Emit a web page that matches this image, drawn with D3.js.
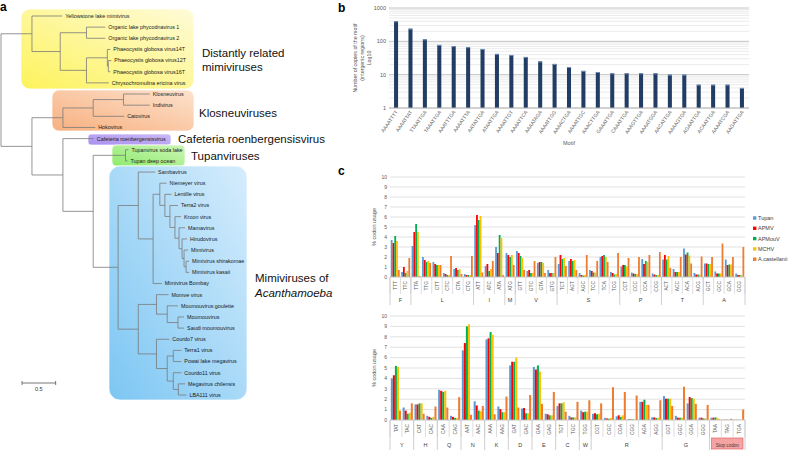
<!DOCTYPE html>
<html>
<head>
<meta charset="utf-8">
<script src="https://cdn.jsdelivr.net/npm/d3@7"></script>
<style>
  body { margin: 0; background: #fff; }
  svg { display: block; font-family: "Liberation Sans", Arial, sans-serif; }
</style>
</head>
<body>
<svg id="fig" width="788" height="451"></svg>
<script>
// ---------------- DATA ----------------
// tree (branch lengths in substitutions/site)
var treeNewick = "((Yellowstone lake mimivirus:0.45,((Organic lake phycodnavirus 1:0.28,Organic lake phycodnavirus 2:0.28):0.39," +
  "((Phaeocystis globosa virus14T:0.045,(Phaeocystis globosa virus12T:0.045,Phaeocystis globosa virus16T:0.03):0.015):0.31," +
  "Chrysochromulina ericina virus:0.33):0.39):0.42):0.46," +
  "((((Klosneuvirus:0.39,Indivirus:0.39):0.45,Catovirus:0.46):0.45,Hokovirus:0.48):0.46," +
  "(Cafeteria roenbergensisvirus:0.46,((Tupanvirus soda lake:0.045,Tupan deep ocean:0.03):0.48," +
  "((Sambavirus:0.25,((Niemeyer virus:0.10,(Lentille virus:0.10,(Terra2 virus:0.12,(Kroon virus:0.09,(Mamavirus:0.09," +
  "(Hirudovirus:0.075,(Mimivirus:0.06,(Mimivirus shirakomae:0.045,Mimivirus kasaii:0.045):0.03):0.03):0.045):0.06):0.075):0.075):0.075):0.10," +
  "Mimivirus Bombay:0.13):0.22):0.30," +
  "((Momve virus:0.18,(Moumouvirus goulette:0.16,(Moumouvirus:0.09,Saudi moumouvirus:0.09):0.16):0.16):0.27," +
  "(Courdo7  virus:0.19,((Terra1 virus:0.12,Powai lake megavirus:0.12):0.09,(Courdo11 virus:0.12," +
  "(Megavirus chilensis:0.10,LBA111 virus:0.12):0.075):0.09):0.16):0.27):0.30):0.37):0.45):0.46):0.46);";

// panel b
var motifs = ["AAAATTTT","AAAATTAT","TTAATTGA","TAAATTGA","AAATTTGA","AAAATTTA","AATATTGA","ATAATTGA",
  "AAAATTGT","AAAATTCA","AAAATAGA","AAAATTGG","AAAACTGA","AAAATTGC","AAACTTGA","GAAATTGA","CAAATTGA",
  "AAAGTTGA","AAAATGGA","AACATTGA","AAAAGTGA","AGAATTGA","ACAATTGA","AAAATCGA","AAGATTGA"];
var motifCopies = [400, 240, 115, 78, 72, 67, 59, 42, 39, 34, 25, 21, 17, 13, 12, 11, 11, 11, 11, 10, 10, 5, 5, 5, 4];
var motifTicks = [1, 10, 100, 1000];

// panel c, top
var codonsTop = ["TTT","TTC","TTA","TTG","CTT","CTC","CTA","CTG","ATT","ATC","ATA","ATG","GTT","GTC","GTA","GTG",
  "TCT","AGT","AGC","TCC","TCA","TCG","CCT","CCC","CCA","CCG","ACT","ACC","ACA","ACG","GCT","GCC","GCA","GCG"];
var aaTop = ["F","F","L","L","L","L","L","L","I","I","I","M","V","V","V","V",
  "S","S","S","S","S","S","P","P","P","P","T","T","T","T","A","A","A","A"];
var tupanTop   = [3.7,0.5,3.1,2.0,1.5,0.4,0.8,0.3, 5.2,1.1,3.0, 2.4, 2.6,0.6,1.4,0.7, 1.3,1.6,0.4,0.7,2.0,0.5, 1.05,0.45,1.8,0.35, 1.75,0.8,2.85,0.4, 1.35,0.55,1.75,0.35];
var apmvTop    = [3.4,1.0,4.5,1.7,1.3,0.3,0.9,0.2, 6.2,1.3,2.4, 2.2, 2.4,0.7,1.5,0.4, 2.2,1.8,0.2,0.6,2.1,0.4, 1.2,0.35,1.3,0.25, 2.2,0.5,2.25,0.25, 1.35,0.35,1.2,0.2];
var apmouvTop  = [4.1,0.4,5.3,1.5,1.2,0.2,0.7,0.2, 5.7,0.6,4.2, 2.0, 2.1,0.4,1.5,0.4, 1.8,1.6,0.15,0.45,2.2,0.25, 1.2,0.3,1.6,0.2, 1.75,0.5,2.45,0.25, 1.3,0.35,1.25,0.2];
var mchvTop    = [3.6,0.6,4.5,1.6,1.2,0.2,0.8,0.2, 6.1,0.8,3.9, 2.2, 1.9,0.4,1.4,0.4, 1.9,1.7,0.2,0.45,2.0,0.3, 1.05,0.3,1.5,0.2, 2.1,0.5,2.15,0.25, 1.3,0.35,1.25,0.2];
var acasTop    = [0.7,1.9,0.1,1.4,1.2,2.1,0.3,2.1, 0.45,1.6,0.2, 1.2, 0.7,1.6,0.4,2.0, 1.1,0.7,2.2,1.6,1.5,2.4, 1.9,2.0,2.2,2.5, 0.9,2.0,1.35,2.05, 2.0,3.35,2.0,3.0];

// panel c, bottom
var codonsBot = ["TAT","TAC","CAT","CAC","CAA","CAG","AAT","AAC","AAA","AAG","GAT","GAC","GAA","GAG","TGT","TGC","TGG",
  "CGT","CGC","CGA","CGG","AGA","AGG","GGT","GGC","GGA","GGG","TAA","TAG","TGA"];
var aaBot = ["Y","Y","H","H","Q","Q","N","N","K","K","D","D","E","E","C","C","W",
  "R","R","R","R","R","R","G","G","G","G","Stop codon","Stop codon","Stop codon"];
var tupanBot  = [4.0,1.2,1.5,0.4,2.9,0.4,6.7,1.8,7.75,1.3,5.25,1.1,5.1,0.6,1.35,0.4,0.9,0.6,0.2,0.35,0.1,1.75,0.25,2.3,0.4,1.6,0.22,0.22,0.03,0.02];
var apmvBot   = [4.3,0.9,1.5,0.3,2.8,0.3,7.4,1.4,7.85,1.05,5.6,1.15,4.85,0.55,1.6,0.25,0.75,0.65,0.15,0.45,0.06,1.75,0.25,2.05,0.22,2.2,0.22,0.22,0.03,0.02];
var apmouvBot = [5.2,0.6,1.6,0.2,2.7,0.2,9.0,0.9,8.45,0.75,5.6,0.65,5.25,0.45,1.6,0.25,0.8,0.55,0.12,0.3,0.06,1.95,0.2,2.05,0.22,2.1,0.15,0.25,0.03,0.02];
var mchvBot   = [5.1,0.7,1.6,0.3,2.8,0.2,9.2,0.85,8.2,0.75,6.0,0.65,4.65,0.45,1.7,0.25,0.8,0.6,0.2,0.45,0.06,1.45,0.2,2.05,0.22,2.05,0.15,0.2,0.03,0.02];
var acasBot   = [0.9,1.6,0.6,1.3,1.2,2.2,0.5,1.35,0.55,2.25,1.2,2.4,1.55,2.7,0.8,1.75,1.9,1.6,3.15,2.7,2.35,1.45,1.9,1.35,3.2,1.55,1.45,0.06,0.12,1.0];

var seriesNames = ["Tupan", "APMV", "APMouV", "MCHV", "A.castellanii"];
var seriesColors = ["#5b9bd5", "#ff0000", "#00b050", "#ffc000", "#ed7d31"];
var usageTicks = [0,1,2,3,4,5,6,7,8,9,10];

// ---------------- HELPERS ----------------
function parseNewick(s) {
  var i = 0;
  function node() {
    var n = {};
    if (s[i] === "(") {
      n.children = [];
      i++;
      n.children.push(node());
      while (s[i] === ",") { i++; n.children.push(node()); }
      i++;
    }
    var name = "";
    while (i < s.length && ",():;".indexOf(s[i]) < 0) name += s[i++];
    n.name = name;
    n.length = 0;
    if (s[i] === ":") {
      i++;
      var len = "";
      while (i < s.length && ",();".indexOf(s[i]) < 0) len += s[i++];
      n.length = +len;
    }
    return n;
  }
  return node();
}

svg = d3.select("#fig");
defs = svg.append("defs");

// ---------------- PANEL A : TREE ----------------
var panelA = svg.append("g");
panelA.append("text").text("a").attr("x", 0).attr("y", 11)
  .attr("font-size", 12).attr("font-weight", "bold");

cladeBoxes = [
  {id: "gy", x: 21, y: 9, w: 173, h: 80, r: 9, c0: "#fdf35c", c1: "#fffbd8"},
  {id: "go", x: 52, y: 90, w: 142, h: 41, r: 7, c0: "#f7b07f", c1: "#fde2cd"},
  {id: "gp", x: 88, y: 134, w: 83, h: 11, r: 3, c0: "#a98ff0", c1: "#cbbaf7"},
  {id: "gg", x: 112, y: 145, w: 73, h: 21, r: 4, c0: "#8eea6c", c1: "#cdf5b8"},
  {id: "gb", x: 109, y: 166, w: 138, h: 234, r: 11, c0: "#7cc6f3", c1: "#d6edfc"}
];
cladeBoxes.forEach(function(b) {
  var lg = defs.append("linearGradient").attr("id", b.id)
    .attr("x1", "0%").attr("y1", "100%").attr("x2", "100%").attr("y2", "0%");
  lg.append("stop").attr("offset", "0%").attr("stop-color", b.c0);
  lg.append("stop").attr("offset", "100%").attr("stop-color", b.c1);
  panelA.append("rect")
    .attr("x", b.x).attr("y", b.y).attr("width", b.w).attr("height", b.h)
    .attr("rx", b.r).attr("ry", b.r)
    .style("fill", "url(#" + b.id + ")")
    .style("stroke", "#ffffff").style("stroke-opacity", 0.7).style("stroke-width", 1);
});

var root = d3.hierarchy(parseNewick(treeNewick));
var tx = d3.scaleLinear().domain([0, 1]).range([1, 68.3]);
root.eachBefore(function(d) {
  d.dist = d.parent ? d.parent.dist + d.data.length : 0;
  d.px = tx(d.dist);
});
var leaves = root.leaves();
var ty = d3.scalePoint().domain(leaves.map(function(d) { return d.data.name; })).range([16, 395]);
root.eachAfter(function(d) {
  d.py = d.children ? (d.children[0].py + d.children[d.children.length - 1].py) / 2 : ty(d.data.name);
});

var treeG = panelA.append("g")
  .style("stroke", "#7a7a7a").style("stroke-width", 0.8).style("fill", "none");
// horizontal branches
treeG.selectAll("line.h")
  .data(root.descendants().filter(function(d) { return d.parent; }))
  .enter().append("line")
    .attr("x1", function(d) { return d.parent.px; })
    .attr("x2", function(d) { return d.px; })
    .attr("y1", function(d) { return d.py; })
    .attr("y2", function(d) { return d.py; });
// vertical connectors
treeG.selectAll("line.v")
  .data(root.descendants().filter(function(d) { return d.children; }))
  .enter().append("line")
    .attr("x1", function(d) { return d.px; })
    .attr("x2", function(d) { return d.px; })
    .attr("y1", function(d) { return d.children[0].py; })
    .attr("y2", function(d) { return d.children[d.children.length - 1].py; });

panelA.selectAll("text.leaf")
  .data(leaves)
  .enter().append("text")
    .attr("x", function(d) { return d.px + 3; })
    .attr("y", function(d) { return d.py; })
    .attr("dy", "0.35em")
    .attr("font-size", 5.4)
    .style("fill", "#1a1a1a")
    .text(function(d) { return d.data.name; });

// clade names
cladeLabels = [
  {t: "Distantly related", x: 202, y: 57},
  {t: "mimiviruses", x: 202, y: 71},
  {t: "Klosneuviruses", x: 199, y: 117},
  {t: "Cafeteria roenbergensisvirus", x: 178, y: 143},
  {t: "Tupanviruses", x: 191, y: 160},
  {t: "Mimiviruses of", x: 255, y: 282},
  {t: "Acanthamoeba", x: 255, y: 297, italic: true}
];
panelA.selectAll("text.clade")
  .data(cladeLabels)
  .enter().append("text")
    .attr("x", function(d) { return d.x; })
    .attr("y", function(d) { return d.y; })
    .attr("font-size", 11.5)
    .style("font-style", function(d) { return d.italic ? "italic" : "normal"; })
    .style("fill", "#111")
    .text(function(d) { return d.t; });

// scale bar
var sbLen = tx(0.5) - tx(0);
var sb = panelA.append("g").style("stroke", "#555").style("stroke-width", 0.8);
sb.append("line").attr("x1", 22).attr("x2", 22 + sbLen).attr("y1", 383).attr("y2", 383);
sb.append("line").attr("x1", 22).attr("x2", 22).attr("y1", 381).attr("y2", 385);
sb.append("line").attr("x1", 22 + sbLen).attr("x2", 22 + sbLen).attr("y1", 381).attr("y2", 385);
panelA.append("text").text("0.5").attr("x", 22 + sbLen / 2).attr("y", 391)
  .attr("text-anchor", "middle").attr("font-size", 5.5).style("fill", "#333");

// ---------------- PANEL B : MOTIFS ----------------
var bL = 389, bR = 749, bT = 8, bB = 108;
var panelB = svg.append("g");
panelB.append("text").text("b").attr("x", 338).attr("y", 12)
  .attr("font-size", 12).attr("font-weight", "bold");

var yb = d3.scaleLog().domain([1, 1000]).range([bB, bT]);
var xb = d3.scaleBand().domain(motifs).range([bL, bR]).paddingInner(0.72).paddingOuter(0.35);

// log grid
var gridVals = [];
[1, 10, 100].forEach(function(dec) { for (var m = 1; m < 10; m++) gridVals.push(dec * m); });
gridVals.push(1000);
panelB.selectAll("line.grid")
  .data(gridVals)
  .enter().append("line")
    .attr("x1", bL).attr("x2", bR)
    .attr("y1", function(d) { return yb(d); })
    .attr("y2", function(d) { return yb(d); })
    .style("stroke", function(d) { return motifTicks.indexOf(d) >= 0 ? "#bdbdbd" : "#e2e2e2"; })
    .style("stroke-width", function(d) { return motifTicks.indexOf(d) >= 0 ? 0.9 : 0.7; });

panelB.selectAll("rect.bar")
  .data(motifCopies)
  .enter().append("rect")
    .attr("x", function(d, i) { return xb(motifs[i]); })
    .attr("width", xb.bandwidth())
    .attr("y", function(d) { return yb(d); })
    .attr("height", function(d) { return bB - yb(d); })
    .style("fill", "#223d64");
panelB.selectAll("rect.cap")
  .data(motifCopies)
  .enter().append("rect")
    .attr("x", function(d, i) { return xb(motifs[i]); })
    .attr("width", xb.bandwidth())
    .attr("y", function(d) { return yb(d); })
    .attr("height", 1)
    .style("fill", "#6f8fbd");

panelB.append("line").attr("x1", bL).attr("x2", bR).attr("y1", bB).attr("y2", bB)
  .style("stroke", "#bdbdbd").style("stroke-width", 0.9);

panelB.selectAll("text.ytick")
  .data(motifTicks)
  .enter().append("text")
    .attr("x", bL - 3)
    .attr("y", function(d) { return yb(d); })
    .attr("dy", "0.35em")
    .attr("text-anchor", "end")
    .attr("font-size", 5.5)
    .style("fill", "#595959")
    .text(function(d) { return d; });

panelB.selectAll("text.xlab")
  .data(motifs)
  .enter().append("text")
    .attr("transform", function(d) {
      return "translate(" + (xb(d) + xb.bandwidth() / 2 + 2) + "," + (bB + 4) + ") rotate(-55)";
    })
    .attr("text-anchor", "end")
    .attr("font-size", 5)
    .style("fill", "#595959")
    .text(function(d) { return d; });

panelB.append("text").text("Motif")
  .attr("x", (bL + bR) / 2).attr("y", 145)
  .attr("text-anchor", "middle").attr("font-size", 5.5).style("fill", "#595959");

var bTitle = ["Number of copies of the motif", "(intergenic regions)", "Log10"];
panelB.selectAll("text.ytitle")
  .data(bTitle)
  .enter().append("text")
    .attr("transform", function(d, i) { return "translate(" + (357 + i * 7) + "," + ((bT + bB) / 2) + ") rotate(-90)"; })
    .attr("text-anchor", "middle")
    .attr("font-size", 5.3)
    .style("fill", "#595959")
    .text(function(d) { return d; });

// ---------------- PANEL C : CODON USAGE ----------------
svg.append("text").text("c").attr("x", 338).attr("y", 175)
  .attr("font-size", 12).attr("font-weight", "bold");

function codonChart(codons, aa, values, top, base, groupY) {
  var g = svg.append("g");
  var cL = 390, cR = 745;
  var x0 = d3.scaleBand().domain(codons).range([cL, cR]).paddingInner(0.14).paddingOuter(0.07);
  var x1 = d3.scaleBand().domain(seriesNames).range([0, x0.bandwidth()]);
  var y = d3.scaleLinear().domain([0, 10]).range([base, top]);
  var step = x0.step();

  g.selectAll("line.grid")
    .data(usageTicks.slice(1))
    .enter().append("line")
      .attr("x1", cL).attr("x2", cR)
      .attr("y1", function(d) { return y(d); })
      .attr("y2", function(d) { return y(d); })
      .style("stroke", "#d9d9d9").style("stroke-width", 0.8);

  g.selectAll("text.ytick")
    .data(usageTicks)
    .enter().append("text")
      .attr("x", cL - 3)
      .attr("y", function(d) { return y(d); })
      .attr("dy", "0.35em")
      .attr("text-anchor", "end")
      .attr("font-size", 5)
      .style("fill", "#595959")
      .text(function(d) { return d; });

  g.append("text").text("% codon usage")
    .attr("transform", "translate(376," + ((top + base) / 2) + ") rotate(-90)")
    .attr("text-anchor", "middle").attr("font-size", 5.5).style("fill", "#595959");

  // bars
  var flat = [];
  codons.forEach(function(c, i) {
    seriesNames.forEach(function(s, k) { flat.push({codon: c, series: s, k: k, v: values[k][i]}); });
  });
  g.selectAll("rect.bar")
    .data(flat)
    .enter().append("rect")
      .attr("x", function(d) { return x0(d.codon) + x1(d.series); })
      .attr("width", x1.bandwidth())
      .attr("y", function(d) { return y(d.v); })
      .attr("height", function(d) { return base - y(d.v); })
      .style("fill", function(d) { return seriesColors[d.k]; });

  g.append("line").attr("x1", cL).attr("x2", cR).attr("y1", base).attr("y2", base)
    .style("stroke", "#bfbfbf").style("stroke-width", 0.9);

  // codon ticks and labels
  g.selectAll("line.ctick")
    .data(d3.range(codons.length + 1))
    .enter().append("line")
      .attr("x1", function(i) { return cL + i * step; })
      .attr("x2", function(i) { return cL + i * step; })
      .attr("y1", base).attr("y2", base + 17)
      .style("stroke", "#d0d0d0").style("stroke-width", 0.7);

  g.selectAll("text.codon")
    .data(codons)
    .enter().append("text")
      .attr("transform", function(d) { return "translate(" + (x0(d) + x0.bandwidth() / 2) + "," + (base + 4) + ") rotate(-90)"; })
      .attr("dy", "0.35em")
      .attr("text-anchor", "end")
      .attr("font-size", 4.8)
      .style("fill", "#595959")
      .text(function(d) { return d; });

  // amino acid groups
  var groups = [];
  aa.forEach(function(a, i) {
    if (groups.length && groups[groups.length - 1].aa === a) groups[groups.length - 1].n++;
    else groups.push({aa: a, start: i, n: 1});
  });
  var bounds = groups.map(function(gr) { return gr.start; }).concat([codons.length]);
  g.selectAll("line.gtick")
    .data(bounds)
    .enter().append("line")
      .attr("x1", function(i) { return cL + i * step; })
      .attr("x2", function(i) { return cL + i * step; })
      .attr("y1", base).attr("y2", base + (groupY - base) + 5)
      .style("stroke", "#c4c4c4").style("stroke-width", 0.8);

  groups.forEach(function(gr) {
    var cx = cL + (gr.start + gr.n / 2) * step;
    if (gr.aa === "Stop codon") {
      g.append("rect")
        .attr("x", cL + gr.start * step + 2).attr("y", groupY - 7)
        .attr("width", gr.n * step - 4).attr("height", 11)
        .style("fill", "#f6a3a3").style("stroke", "#e06666").style("stroke-width", 0.7);
    }
    g.append("text").text(gr.aa)
      .attr("x", cx).attr("y", groupY).attr("dy", "0.35em")
      .attr("text-anchor", "middle")
      .attr("font-size", gr.aa === "Stop codon" ? 4.6 : 5.5)
      .style("fill", "#404040");
  });
  return g;
}

codonChart(codonsTop, aaTop, [tupanTop, apmvTop, apmouvTop, mchvTop, acasTop], 177, 277, 300);
codonChart(codonsBot, aaBot, [tupanBot, apmvBot, apmouvBot, mchvBot, acasBot], 316, 420, 445);

// legend
var legend = svg.append("g");
legend.selectAll("rect")
  .data(seriesNames)
  .enter().append("rect")
    .attr("x", 753)
    .attr("y", function(d, i) { return 216.3 + i * 10.3; })
    .attr("width", 3.4).attr("height", 3.4)
    .style("fill", function(d, i) { return seriesColors[i]; });
legend.selectAll("text")
  .data(seriesNames)
  .enter().append("text")
    .attr("x", 758)
    .attr("y", function(d, i) { return 218 + i * 10.3; })
    .attr("dy", "0.35em")
    .attr("font-size", 5.5)
    .style("fill", "#404040")
    .text(function(d) { return d; });
</script>
</body>
</html>
